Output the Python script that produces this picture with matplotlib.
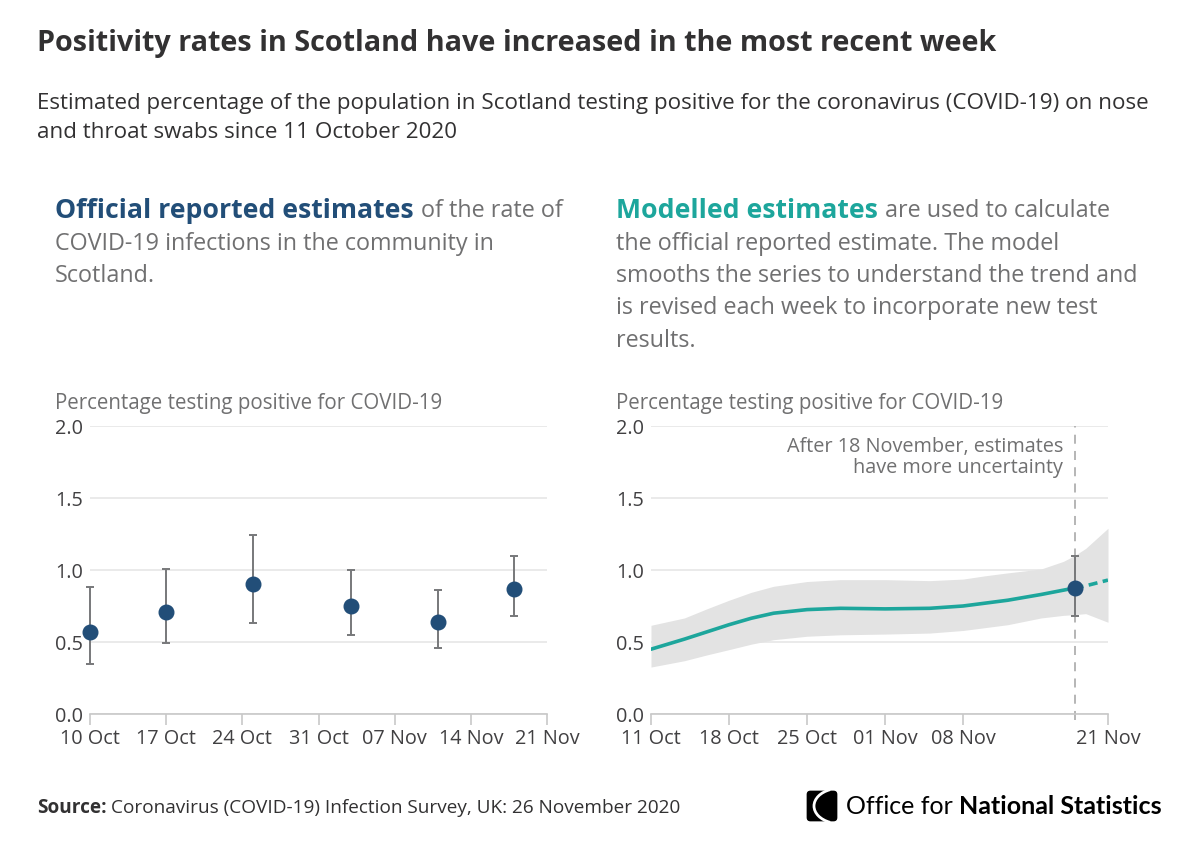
import matplotlib
matplotlib.use("Agg")
import matplotlib.pyplot as plt
import matplotlib.dates as mdates
from matplotlib.patches import FancyBboxPatch, Arc
import numpy as np
import datetime as dt

plt.rcParams['font.family'] = ['Open Sans', 'DejaVu Sans']

# official reported estimates (left panel)
official_dates = ["2020-10-10", "2020-10-17", "2020-10-25", "2020-11-03", "2020-11-11", "2020-11-18"]
official_value = [0.57, 0.71, 0.90, 0.75, 0.64, 0.87]
official_lower = [0.35, 0.49, 0.63, 0.55, 0.46, 0.68]
official_upper = [0.88, 1.01, 1.24, 1.00, 0.86, 1.10]

# modelled estimates (right panel)
model_dates = ["2020-10-11", "2020-10-14", "2020-10-16", "2020-10-18", "2020-10-20", "2020-10-22",
               "2020-10-25", "2020-10-28", "2020-11-01", "2020-11-05", "2020-11-08", "2020-11-10",
               "2020-11-12", "2020-11-15", "2020-11-17", "2020-11-18", "2020-11-19", "2020-11-21"]
model_value = [0.45, 0.52, 0.57, 0.62, 0.665, 0.70, 0.725, 0.734, 0.73, 0.734, 0.75, 0.77,
               0.79, 0.83, 0.86, 0.875, 0.89, 0.93]
model_lower = [0.326, 0.37, 0.41, 0.447, 0.485, 0.516, 0.54, 0.55, 0.555, 0.562, 0.58, 0.60,
               0.62, 0.667, 0.685, 0.69, 0.697, 0.637]
model_upper = [0.616, 0.667, 0.73, 0.79, 0.845, 0.887, 0.92, 0.933, 0.933, 0.926, 0.937, 0.96,
               0.98, 1.007, 1.06, 1.10, 1.15, 1.29]

latest_date = "2020-11-18"
latest_value = 0.875
latest_lower = 0.68
latest_upper = 1.10

left_ticks = ["2020-10-10", "2020-10-17", "2020-10-24", "2020-10-31", "2020-11-07", "2020-11-14", "2020-11-21"]
right_ticks = ["2020-10-11", "2020-10-18", "2020-10-25", "2020-11-01", "2020-11-08", "2020-11-21"]

BLUE = "#224e78"
TEAL = "#1da69c"
DARK = "#323132"
GREY = "#707071"
TICKC = "#414042"

d = lambda s: dt.datetime.strptime(s, "%Y-%m-%d")

fig = plt.figure(figsize=(12, 8.49), dpi=100)
W, H = 1200, 849


def fx(px):
    return px / W


def fy(py):
    return 1 - py / H


fig.text(fx(37), fy(44), "Positivity rates in Scotland have increased in the most recent week",
         fontsize=20.7, fontweight="bold", color=DARK, va="center")
fig.text(fx(37), fy(103), "Estimated percentage of the population in Scotland testing positive for the coronavirus (COVID-19) on nose",
         fontsize=16.1, color=DARK, va="center")
fig.text(fx(37), fy(132), "and throat swabs since 11 October 2020",
         fontsize=16.1, color=DARK, va="center")

fig.canvas.draw()
renderer = fig.canvas.get_renderer()


def header(x0, y0, bold, rest_first, lines, colour):
    t = fig.text(fx(x0), fy(y0), bold, fontsize=19.2, fontweight="bold", color=colour, va="center")
    bb = t.get_window_extent(renderer)
    fig.text(bb.x1 / W + fx(7), fy(y0), rest_first, fontsize=16.8, color=GREY, va="center")
    for i, ln in enumerate(lines):
        fig.text(fx(x0), fy(y0 + 32.5 * (i + 1)), ln, fontsize=16.8, color=GREY, va="center")


header(55, 211, "Official reported estimates", "of the rate of",
       ["COVID-19 infections in the community in", "Scotland."], BLUE)
header(616, 211, "Modelled estimates", "are used to calculate",
       ["the official reported estimate. The model", "smooths the series to understand the trend and",
        "is revised each week to incorporate new test", "results."], TEAL)

ax1 = fig.add_axes([fx(90), fy(714), fx(547 - 90), (714 - 426) / H])
ax2 = fig.add_axes([fx(651), fy(714), fx(1108 - 651), (714 - 426) / H])

for ax, xl, ticks in [(ax1, (d("2020-10-10"), d("2020-11-21")), left_ticks),
                      (ax2, (d("2020-10-11"), d("2020-11-21")), right_ticks)]:
    ax.set_xlim(*xl)
    ax.set_ylim(0, 2.0)
    ax.set_yticks([0, 0.5, 1.0, 1.5, 2.0])
    ax.set_yticklabels(["0.0", "0.5", "1.0", "1.5", "2.0"])
    ax.set_xticks([d(s) for s in ticks])
    ax.xaxis.set_major_formatter(mdates.DateFormatter("%d %b"))
    ax.grid(axis="y", color="#e6e6e6", lw=1.2)
    ax.set_axisbelow(True)
    for sp in ["top", "right", "left"]:
        ax.spines[sp].set_visible(False)
    ax.spines["bottom"].set_color("#c8c8c8")
    ax.spines["bottom"].set_linewidth(1.2)
    ax.tick_params(axis="y", length=0, pad=5, labelsize=14.3, labelcolor=TICKC)
    ax.tick_params(axis="x", length=8, width=1.2, color="#c8c8c8", pad=3, labelsize=14.3, labelcolor=TICKC)
    ax.text(-35 / 457, 1.0 + 23 / 288, "Percentage testing positive for COVID-19", transform=ax.transAxes,
            fontsize=14.8, color=GREY, va="center", ha="left")

# left panel
ox = [d(s) for s in official_dates]
yerr = [np.array(official_value) - np.array(official_lower), np.array(official_upper) - np.array(official_value)]
ax1.errorbar(ox, official_value, yerr=yerr, fmt="o", color=BLUE, ms=10.5, ecolor="#77787a",
             elinewidth=1.4, capsize=3, capthick=1.4, zorder=3, clip_on=False)

# right panel
mx = [d(s) for s in model_dates]
ax2.fill_between(mx, model_lower, model_upper, color="#e3e3e3", lw=0, zorder=1)
split = model_dates.index(latest_date)
ax2.plot(mx[:split + 1], model_value[:split + 1], color=TEAL, lw=2.6, zorder=2, solid_capstyle="round")
ax2.plot(mx[split:], model_value[split:], color=TEAL, lw=2.6, ls=(0, (2.5, 1.5)), zorder=2)
ax2.axvline(d(latest_date), ymin=-0.02, ymax=1.0, color="#b0b0b0", lw=1.3, ls=(0, (5, 4)), zorder=1.5, clip_on=False)
ax2.errorbar([d(latest_date)], [latest_value],
             yerr=[[latest_value - latest_lower], [latest_upper - latest_value]],
             fmt="o", color=BLUE, ms=10.5, ecolor="#77787a", elinewidth=1.4, capsize=3, capthick=1.4, zorder=3)
ax2.text(d("2020-11-17"), 1.78, "After 18 November, estimates\nhave more uncertainty", ha="right", va="center",
         fontsize=14.3, color=GREY, linespacing=1.1)

# source
t = fig.text(fx(37), fy(808), "Source:", fontsize=13.7, fontweight="bold", color=DARK, va="center")
bb = t.get_window_extent(renderer)
fig.text(bb.x1 / W + fx(4), fy(808), "Coronavirus (COVID-19) Infection Survey, UK: 26 November 2020",
         fontsize=13.7, color=DARK, va="center")

# logo
lax = fig.add_axes([fx(806), fy(822), fx(32), 32 / H])
lax.set_xlim(0, 1)
lax.set_ylim(0, 1)
lax.axis("off")
lax.add_patch(FancyBboxPatch((0.02, 0.02), 0.96, 0.96, boxstyle="round,pad=0,rounding_size=0.12",
                             fc="black", ec="none"))
lax.add_patch(Arc((1.05, 0.5), 1.6, 1.1, theta1=120, theta2=240, color="white", lw=2))
t = fig.text(fx(846), fy(806), "Office for ", fontsize=18, color="black", va="center",
             family=["Lato", "DejaVu Sans"])
bb = t.get_window_extent(renderer)
fig.text(bb.x1 / W, fy(806), "National Statistics", fontsize=18, fontweight="bold", color="black",
         va="center", family=["Lato", "DejaVu Sans"])

fig.savefig("out.png", dpi=100)
